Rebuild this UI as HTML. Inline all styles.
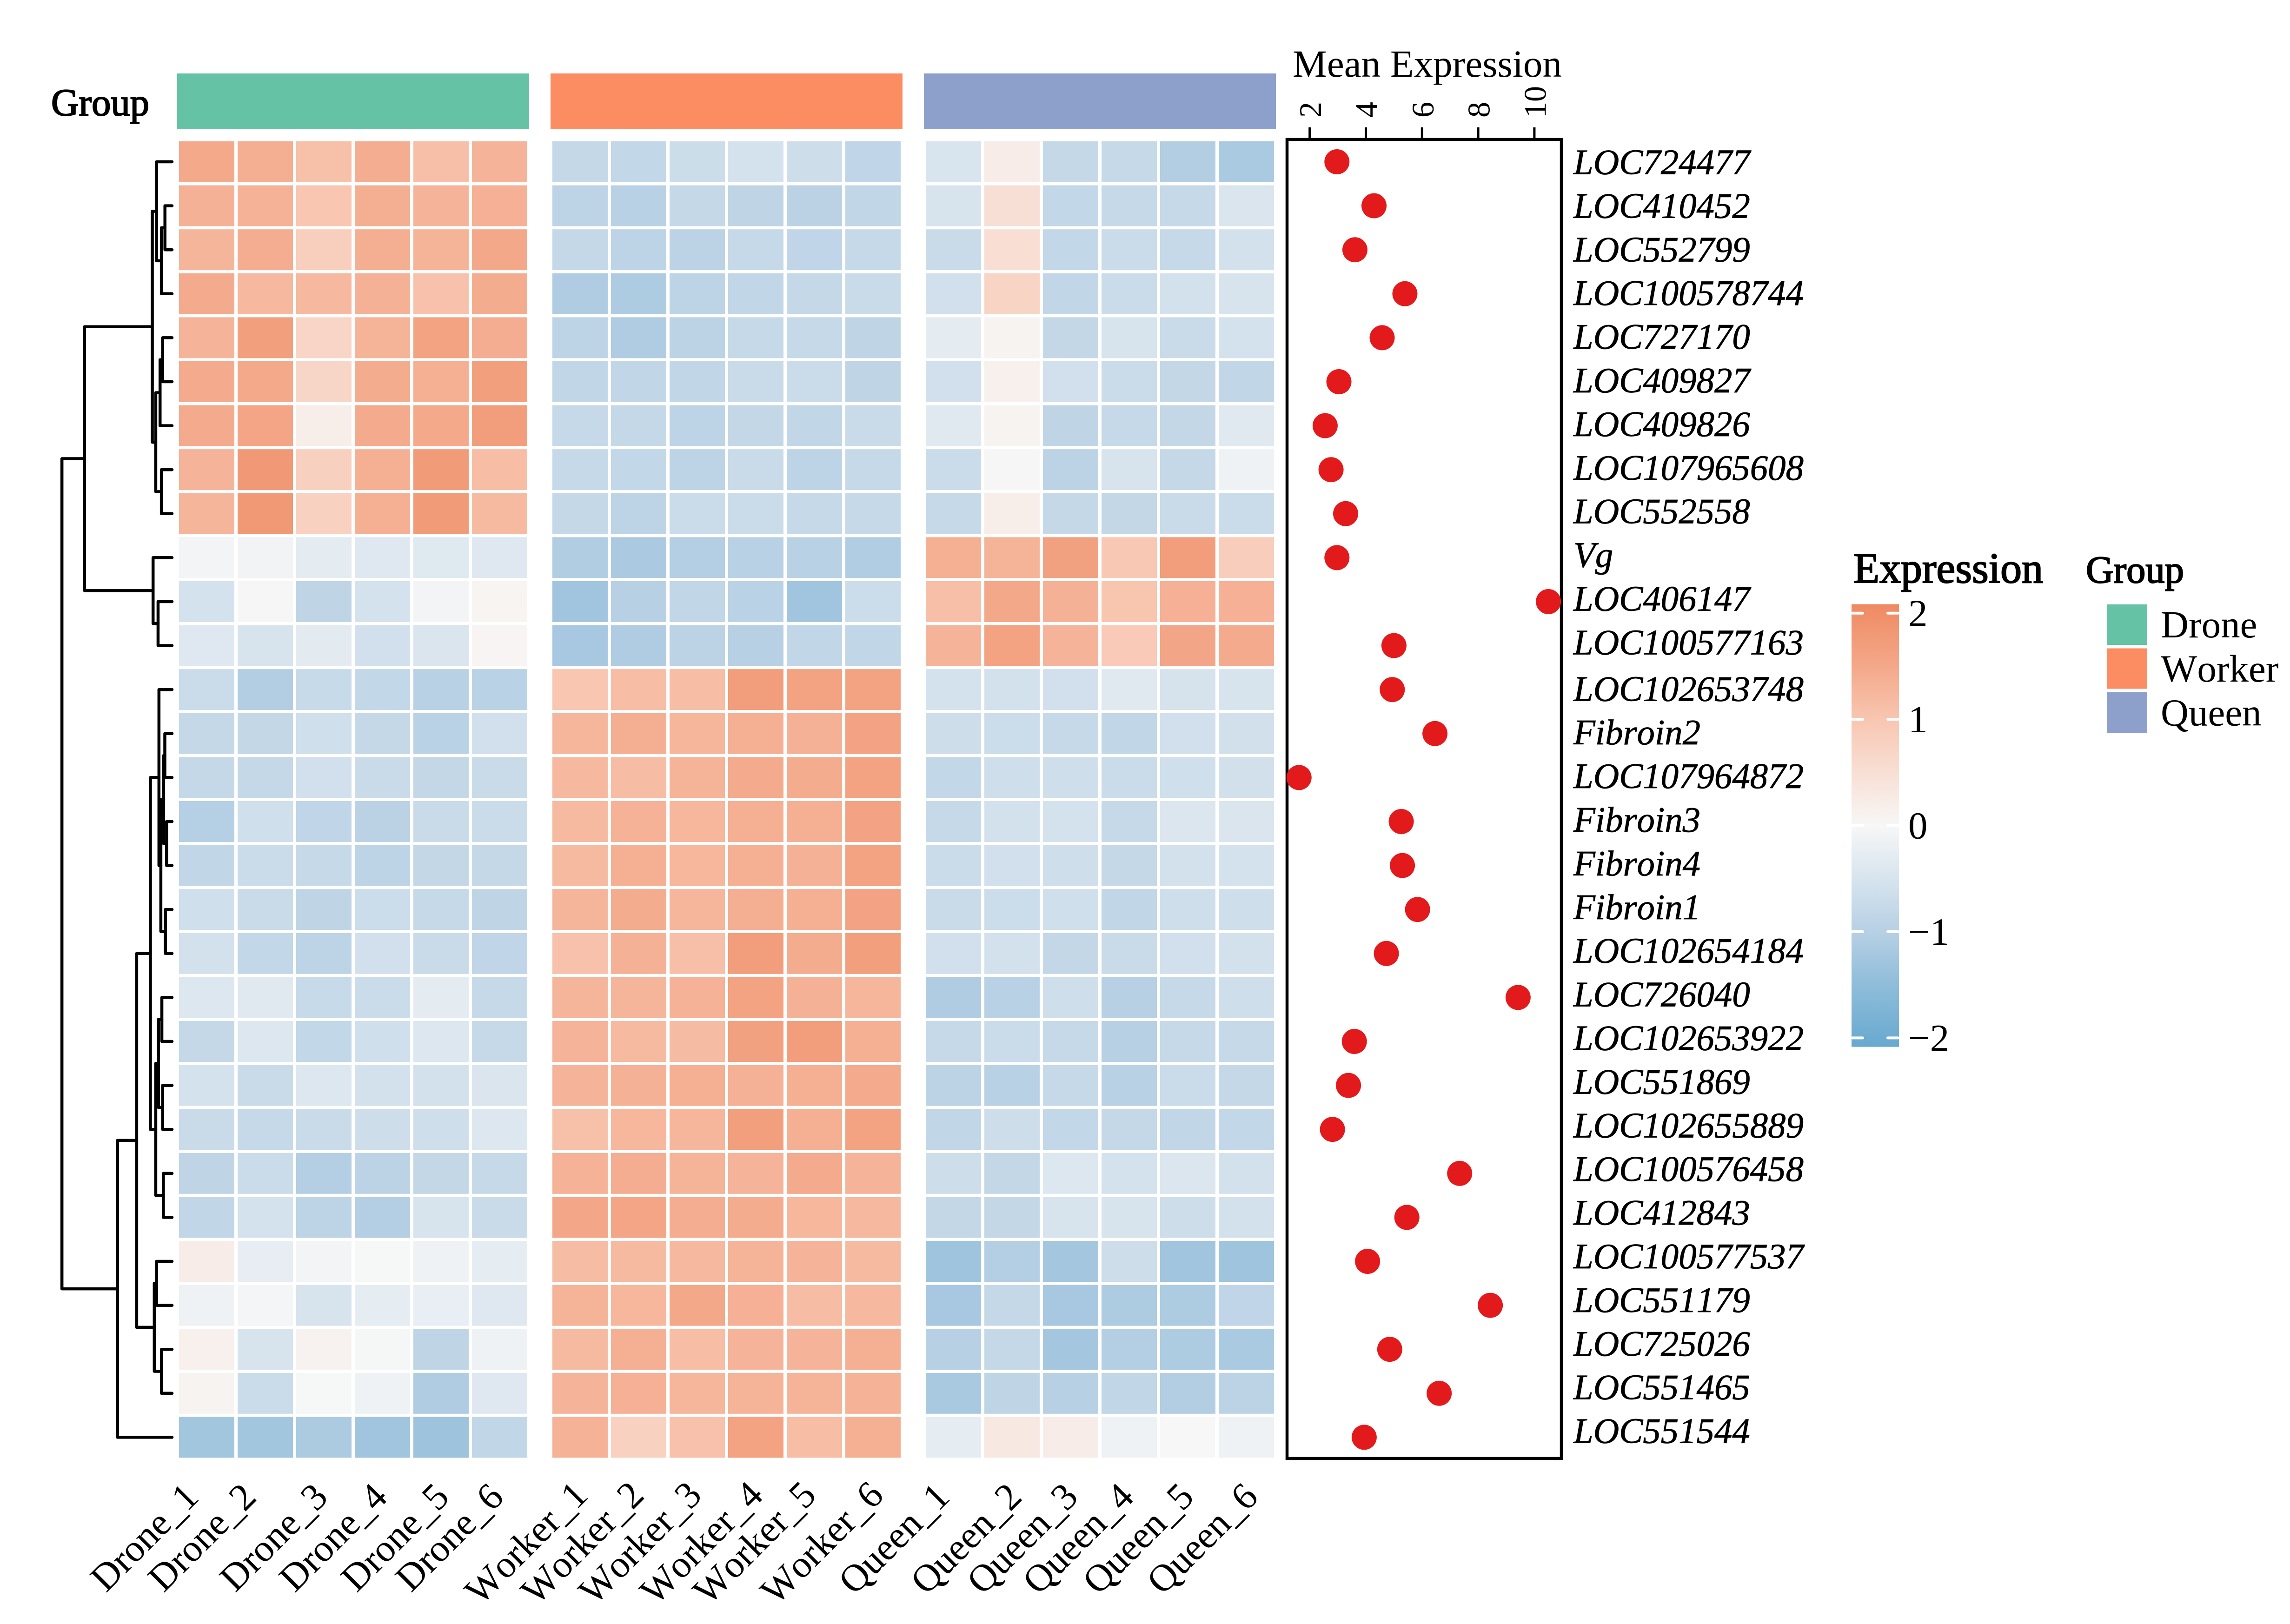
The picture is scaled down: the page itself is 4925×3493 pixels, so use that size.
<!DOCTYPE html>
<html>
<head>
<meta charset="utf-8">
<title>Expression heatmap with mean expression</title>
<style>
html,body{margin:0;padding:0;background:#fff;}
svg{display:block;}
text{font-family:"Liberation Serif","Times New Roman",serif;fill:#000;font-kerning:none;}
</style>
</head>
<body>
<svg id="chart" xmlns="http://www.w3.org/2000/svg" width="4925" height="3493" viewBox="0 0 4925 3493">
<rect x="0" y="0" width="4925" height="3493" fill="#ffffff"/>
<text x="110" y="248" font-size="83" textLength="211" lengthAdjust="spacingAndGlyphs" stroke="#000" stroke-width="2.2">Group</text>
<text x="2780" y="165" font-size="83" textLength="579" lengthAdjust="spacingAndGlyphs">Mean Expression</text>
<text x="3986" y="1253" font-size="92" textLength="408" lengthAdjust="spacingAndGlyphs" stroke="#000" stroke-width="2.2">Expression</text>
<text x="4486" y="1253" font-size="83" textLength="211" lengthAdjust="spacingAndGlyphs" stroke="#000" stroke-width="2.2">Group</text>
<g id="dendrogram"></g>
<g id="annotations"></g>
<g id="cells"></g>
<g id="sampleLabels"></g>
<g id="geneLabels"></g>
<g id="dots"></g>
<g id="legend"></g>
</svg>
<script>
const genes = ["LOC724477","LOC410452","LOC552799","LOC100578744","LOC727170","LOC409827","LOC409826","LOC107965608","LOC552558","Vg","LOC406147","LOC100577163","LOC102653748","Fibroin2","LOC107964872","Fibroin3","Fibroin4","Fibroin1","LOC102654184","LOC726040","LOC102653922","LOC551869","LOC102655889","LOC100576458","LOC412843","LOC100577537","LOC551179","LOC725026","LOC551465","LOC551544"];
const groups = ["Drone","Worker","Queen"];
const groupColors = ["#66c2a5","#fc8d62","#8da0cb"];
const droneValues = [
[1.48,1.4,1.1,1.42,1.12,1.3],[1.35,1.33,1.0,1.4,1.3,1.36],[1.28,1.42,.83,1.4,1.32,1.5],[1.47,1.22,1.22,1.35,1.08,1.44],
[1.3,1.65,.7,1.32,1.6,1.42],[1.47,1.48,.68,1.44,1.38,1.65],[1.47,1.55,.2,1.47,1.48,1.66],[1.3,1.75,.8,1.37,1.72,1.15],
[1.28,1.77,.78,1.37,1.72,1.2],[-.07,-.1,-.3,-.38,-.37,-.38],[-.55,.02,-.87,-.55,-.08,.07],[-.38,-.5,-.32,-.6,-.45,.06],
[-.7,-1.05,-.75,-.83,-.97,-.95],[-.8,-.82,-.62,-.8,-.95,-.6],[-.8,-.8,-.6,-.72,-.82,-.72],[-1.02,-.62,-.86,-.94,-.72,-.7],
[-.85,-.7,-.77,-.9,-.82,-.8],[-.62,-.72,-.88,-.68,-.77,-.87],[-.56,-.83,-.9,-.6,-.72,-.86],[-.42,-.35,-.75,-.7,-.3,-.76],
[-.8,-.4,-.83,-.62,-.42,-.77],[-.54,-.72,-.42,-.56,-.56,-.45],[-.72,-.78,-.72,-.66,-.63,-.42],[-.87,-.7,-1.04,-.93,-.82,-.77],
[-.85,-.54,-.9,-1.04,-.5,-.72],[.22,-.25,-.08,-.01,-.14,-.28],[-.14,-.06,-.5,-.28,-.23,-.38],[.14,-.5,.1,-.03,-.87,-.13],
[.08,-.7,-.01,-.14,-1.1,-.38],[-1.25,-1.25,-1.14,-1.28,-1.33,-.85]];
const workerValues = [
[-.8,-.83,-.67,-.54,-.66,-.86],[-.9,-.97,-.8,-.88,-.94,-.85],[-.8,-.9,-.93,-.76,-.86,-.77],[-1.1,-1.12,-.9,-.85,-.8,-.72],
[-.9,-1.1,-.93,-.78,-.78,-.88],[-.85,-.85,-.85,-.72,-.7,-.88],[-.76,-.8,-.9,-.82,-.85,-.72],[-.78,-.83,-.9,-.72,-.9,-.76],
[-.8,-.9,-.7,-.7,-.76,-.78],[-1.08,-1.15,-1.04,-.97,-.97,-1.07],[-1.27,-1.0,-.85,-.96,-1.27,-.68],[-1.2,-1.1,-.93,-1.0,-.85,-.85],
[1.0,1.15,1.15,1.68,1.6,1.6],[1.26,1.4,1.26,1.37,1.35,1.58],[1.22,1.17,1.32,1.47,1.44,1.6],[1.2,1.33,1.25,1.38,1.37,1.58],
[1.2,1.37,1.25,1.37,1.35,1.6],[1.28,1.44,1.26,1.4,1.37,1.58],[1.08,1.35,1.12,1.68,1.44,1.65],[1.28,1.28,1.33,1.6,1.35,1.26],
[1.3,1.2,1.18,1.62,1.66,1.38],[1.3,1.35,1.38,1.35,1.38,1.47],[1.1,1.25,1.26,1.65,1.38,1.6],[1.33,1.42,1.32,1.3,1.47,1.3],
[1.52,1.55,1.42,1.44,1.25,1.24],[1.17,1.2,1.22,1.32,1.3,1.2],[1.32,1.25,1.5,1.36,1.17,1.24],[1.2,1.38,1.15,1.3,1.3,1.38],
[1.3,1.36,1.26,1.32,1.32,1.34],[1.33,.78,1.08,1.6,1.15,1.37]];
const queenValues = [
[-.47,.22,-.8,-.78,-1.05,-1.16],[-.5,.48,-.83,-.76,-.76,-.46],[-.72,.52,-.83,-.7,-.76,-.56],[-.6,.72,-.85,-.7,-.56,-.5],
[-.3,.08,-.82,-.5,-.72,-.54],[-.6,.15,-.6,-.7,-.82,-.85],[-.35,.08,-.87,-.76,-.82,-.35],[-.7,-.02,-.93,-.5,-.8,-.12],
[-.76,.2,-.8,-.82,-.72,-.7],[1.38,1.32,1.62,.95,1.68,.85],[1.12,1.5,1.35,1.02,1.36,1.36],[1.3,1.6,1.3,.92,1.53,1.46],
[-.54,-.56,-.6,-.36,-.52,-.5],[-.66,-.68,-.78,-.85,-.6,-.58],[-.83,-.63,-.63,-.7,-.62,-.58],[-.76,-.56,-.54,-.78,-.44,-.46],
[-.7,-.6,-.63,-.8,-.56,-.54],[-.72,-.68,-.62,-.85,-.63,-.63],[-.6,-.56,-.82,-.72,-.6,-.56],[-1.1,-.97,-.64,-1.0,-.76,-.63],
[-.76,-.7,-.78,-1.0,-.76,-.78],[-.93,-.97,-.76,-.98,-.7,-.8],[-.85,-.66,-.83,-.8,-.85,-.83],[-.66,-.82,-.42,-.54,-.44,-.56],
[-.82,-.82,-.5,-.5,-.66,-.56],[-1.3,-1.04,-1.24,-.66,-1.28,-1.3],[-1.2,-.8,-1.2,-1.12,-1.12,-.86],[-1.0,-.8,-1.24,-1.04,-1.12,-1.16],
[-1.18,-.87,-1.0,-.85,-1.05,-.92],[-.28,.3,.22,-.14,0,-.14]];
const meanExpression = [2.97,4.29,3.61,5.39,4.58,3.04,2.55,2.76,3.28,2.97,10.5,5.0,4.94,6.46,1.62,5.26,5.3,5.84,4.73,9.42,3.59,3.38,2.81,7.34,5.46,4.06,8.43,4.85,6.61,3.94];
const meanTicks = [2,4,6,8,10];
const legendTicks = [2,1,0,-1,-2];
/* Row clustering: [merge height, childA, childB]; integer leaves are row indexes */
const rowTree = [.993,
 [.789,
  [.178,
   [.140,0,[.096,[.064,1,2],3]],
   [.147,[.108,[.085,4,5],6],[.096,7,8]]],
  [.171,9,[.126,10,11]]],
 [.492,
  [.319,
   [.195,
    [.118,12,[.101,[.076,[.065,13,14],[.049,15,16]],[.060,17,18]]],
    [.147,[.123,[.092,19,20],[.085,21,22]],[.078,23,24]]],
   [.160,[.140,25,26],[.095,27,28]]],
  29]];

const NS = "http://www.w3.org/2000/svg";
function mk(tag, parent) { const e = document.createElementNS(NS, tag); parent.appendChild(e); return e; }
function setA(e, o) { for (const k in o) e.setAttribute(k, o[k]); return e; }

/* axes */
const rowY = i => 348 + 94.6 * i;
const colX = (g, c) => [385, 1188, 1991][g] + 126 * c;
const meanX = v => 2816.7 + (v - 2) * 60.4;
const legendY = v => 1775.6 - v * 228.4;
const dendroX = h => 370 - h * 238.5;
const colorStops = [[-2, [103,169,207]], [-1, [183,208,228]], [0, [247,247,247]], [1, [248,198,177]], [2, [239,138,98]]];
function color(v) {
  v = Math.max(-2, Math.min(2, v));
  for (let i = 0; i < colorStops.length - 1; i++) {
    const a = colorStops[i], b = colorStops[i + 1];
    if (v <= b[0]) {
      const t = (v - a[0]) / (b[0] - a[0]);
      return "rgb(" + a[1].map((x, k) => Math.round(x + (b[1][k] - x) * t)).join(",") + ")";
    }
  }
  return "rgb(239,138,98)";
}

/* annotation bars and heat cells */
const annG = document.getElementById("annotations");
const cellG = document.getElementById("cells");
const matrices = [droneValues, workerValues, queenValues];
groups.forEach((g, gi) => {
  const bar = mk("rect", annG);
  
  
  setA(bar, {x: colX(gi, 0) - 4, y: 158, width: 757, height: 120, fill: groupColors[gi]});
  matrices[gi].forEach((row, r) => {
    row.forEach((v, c) => {
      const cell = mk("rect", cellG);
      
      
      setA(cell, {x: colX(gi, c), y: rowY(r) - 44, width: 119, height: 88, fill: color(v)});
    });
  });
});

/* sample labels: layout nudges keep the hand-placed spacing of the figure */
const sampleG = document.getElementById("sampleLabels");
const labelNudge = [[-216.5,-218.5,-190.5,-188.5,-181.5,-190.5],[-214.5,-219.5,-221.5,-215.5,-227.5,-208.5],[-213.5,-184.5,-189.5,-195.5,-192.5,-180.5]];
const labelBase = [3427, 3455, 3433];
groups.forEach((g, gi) => {
  for (let c = 0; c < 6; c++) {
    const t = mk("text", sampleG);
    
    
    const sx = colX(gi, c) + 59.5 + labelNudge[gi][c];
    setA(t, {x: sx, y: labelBase[gi], "font-size": 82, transform: "rotate(-45 " + sx + " " + labelBase[gi] + ")"});
    t.textContent = g + "_" + (c + 1);
  }
});

/* gene labels */
const geneG = document.getElementById("geneLabels");
genes.forEach((name, i) => {
  const t = mk("text", geneG);
  
  
  setA(t, {x: 3384, y: 374.5 + i * 93.9 + (i >= 12 ? 6 : 0), "font-size": 76.8, "font-style": "italic", stroke: "#000", "stroke-width": 0.8});
  t.textContent = name;
});

/* dendrogram */
const dendG = document.getElementById("dendrogram");
function drawNode(n) {
  if (typeof n === "number") return {x: dendroX(0), y: rowY(n)};
  const a = drawNode(n[1]), b = drawNode(n[2]);
  const x = dendroX(n[0]);
  const p = mk("path", dendG);
  
  
  setA(p, {d: "M" + a.x + " " + a.y + "H" + x + "V" + b.y + "H" + b.x, fill: "none", stroke: "#000", "stroke-width": 6.5, "stroke-linecap": "round", "stroke-linejoin": "round"});
  return {x: x, y: (a.y + b.y) / 2};
}
drawNode(rowTree);

/* mean expression panel */
const dotG = document.getElementById("dots");
const box = mk("rect", dotG);


setA(box, {x: 2768, y: 300, width: 590, height: 2837, fill: "none", stroke: "#000", "stroke-width": 6.5});
meanTicks.forEach(v => {
  const l = mk("line", dotG);
  
  
  setA(l, {x1: meanX(v), x2: meanX(v), y1: 274, y2: 298, stroke: "#000", "stroke-width": 5});
  const t = mk("text", dotG);
  
  
  const tx = meanX(v) + 24.5;
  setA(t, {x: tx, y: 253, "font-size": 68, transform: "rotate(-90 " + tx + " 253)"});
  t.textContent = v;
});
meanExpression.forEach((v, i) => {
  const c = mk("circle", dotG);
  
  
  setA(c, {cx: meanX(v), cy: rowY(i), r: 27, fill: "#e31a1c"});
});

/* legends */
const legG = document.getElementById("legend");
const defs = mk("defs", legG);
const grad = mk("linearGradient", defs);
setA(grad, {id: "expressionGradient", x1: 0, y1: 0, x2: 0, y2: 1});
[2.084, 1.5, 1, .5, 0, -.5, -1, -1.5, -2.084].forEach(v => {
  const s = mk("stop", grad);
  setA(s, {offset: ((2.084 - v) / 4.168), "stop-color": color(v)});
});
const cbar = mk("rect", legG);


setA(cbar, {x: 3982, y: legendY(2.084), width: 102, height: legendY(-2.084) - legendY(2.084), fill: "url(#expressionGradient)"});
legendTicks.forEach(v => {
  [[3984, 4006], [4060, 4082]].forEach(seg => {
    const l = mk("line", legG);
    
    
    setA(l, {x1: seg[0], x2: seg[1], y1: legendY(v), y2: legendY(v), stroke: "#fff", "stroke-width": 6, "stroke-linecap": "round"});
  });
  const t = mk("text", legG);
  
  
  setA(t, {x: 4104, y: legendY(v) + 28, "font-size": 83});
  t.textContent = v < 0 ? "\u2212" + Math.abs(v) : String(v);
});
groups.forEach((g, i) => {
  const r = mk("rect", legG);
  
  
  setA(r, {x: 4531, y: 1300 + i * 94.5, width: 87, height: 87, fill: groupColors[i]});
  const t = mk("text", legG);
  
  
  setA(t, {x: 4647, y: 1371 + i * 94.8, "font-size": 83});
  t.textContent = g;
});
</script>
</body>
</html>
